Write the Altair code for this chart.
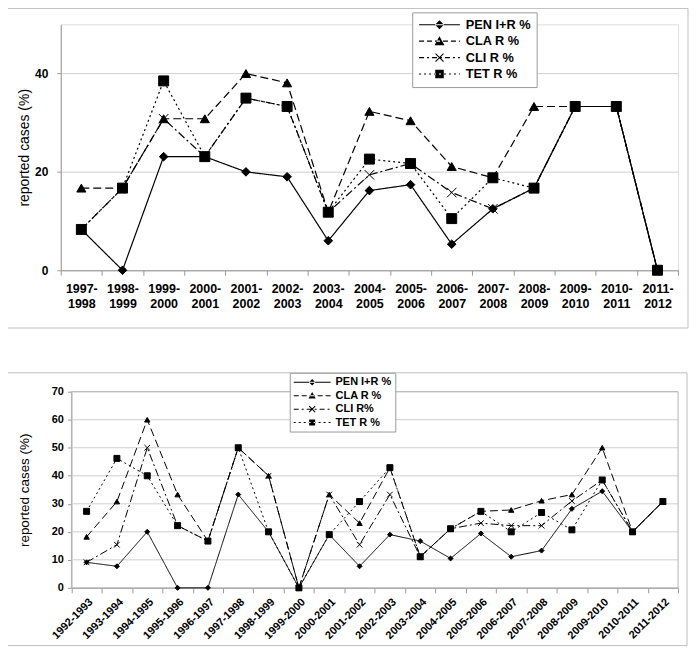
import math
import altair as alt
import pandas as pd

# ---------------- data ----------------
TOP_PERIODS = ["1997-1998", "1998-1999", "1999-2000", "2000-2001", "2001-2002",
               "2002-2003", "2003-2004", "2004-2005", "2005-2006", "2006-2007",
               "2007-2008", "2008-2009", "2009-2010", "2010-2011", "2011-2012"]
TOP_SERIES = ["PEN I+R %", "CLA R %", "CLI R %", "TET R %"]
TOP_PEN = [8.3, 0, 23.1, 23.1, 20.0, 19.0, 6.0, 16.2, 17.4, 5.3, 12.5, 16.7, 33.3, 33.3, 0]
TOP_CLA = [16.7, 16.7, 30.8, 30.8, 40.0, 38.1, 11.8, 32.3, 30.4, 21.1, 18.8, 33.3, 33.3, 33.3, 0]
TOP_CLI = [8.3, 16.7, 30.8, 23.1, 35.0, 33.3, 11.8, 19.4, 21.7, 15.8, 12.5, 16.7, 33.3, 33.3, 0]
TOP_TET = [8.3, 16.7, 38.5, 23.1, 35.0, 33.3, 11.8, 22.6, 21.7, 10.5, 18.8, 16.7, 33.3, 33.3, 0]
TOP_TICKS = [0, 20, 40]

BOT_PERIODS = ["1992-1993", "1993-1994", "1994-1995", "1995-1996", "1996-1997",
               "1997-1998", "1998-1999", "1999-2000", "2000-2001", "2001-2002",
               "2002-2003", "2003-2004", "2004-2005", "2005-2006", "2006-2007",
               "2007-2008", "2008-2009", "2009-2010", "2010-2011", "2011-2012"]
BOT_SERIES = ["PEN I+R %", "CLA R %", "CLI R%", "TET R %"]
BOT_PEN = [9.1, 7.7, 20.0, 0, 0, 33.3, 20.0, 0, 19.0, 7.7, 19.0, 16.7, 10.5, 19.4, 11.1, 13.3, 28.2, 34.5, 20.0, 30.8]
BOT_CLA = [18.2, 30.8, 60.0, 33.3, 16.7, 50.0, 40.0, 0, 33.3, 23.1, 42.9, 11.1, 21.1, 27.3, 27.8, 31.1, 33.3, 50.0, 20.0, 30.8]
BOT_CLI = [9.1, 15.4, 50.0, 22.2, 16.7, 50.0, 40.0, 0, 33.3, 15.4, 33.3, 11.1, 21.1, 23.1, 22.2, 22.2, 31.0, 38.5, 20.0, 30.8]
BOT_TET = [27.3, 46.2, 40.0, 22.2, 16.7, 50.0, 20.0, 0, 19.0, 30.8, 42.9, 11.1, 21.1, 27.3, 20.0, 26.9, 20.7, 38.5, 20.0, 30.8]
BOT_TICKS = [0, 10, 20, 30, 40, 50, 60, 70]

FONT = "Liberation Sans"
DASHES = [None, [5, 3], [5, 3, 2, 3], [2, 3]]
LINE_DASH_RANGE = [[1, 0], [8, 4], [8, 3, 2, 3], [2, 3]]
MARKERS = ["diamond", "triangle", "x", "square"]
X_PATH = "M-1,-1L1,1M-1,1L1,-1"


def long_df(periods, series, columns):
    rows = []
    for s, vals in zip(series, columns):
        for p, v in zip(periods, vals):
            rows.append({"period": p, "series": s, "value": v})
    return pd.DataFrame(rows)


def bar(xa, ya, xb, yb, t, u):
    """Filled thin quadrilateral from (xa,ya) to (xb,yb), half thickness t (px)."""
    dx, dy = xb - xa, yb - ya
    n = math.hypot(dx, dy) or 1.0
    nx, ny = -dy / n * t, dx / n * t
    pts = [(xa + nx, ya + ny), (xb + nx, yb + ny), (xb - nx, yb - ny), (xa - nx, ya - ny)]
    return "M" + "L".join(f"{px / u:.3f},{py / u:.3f}" for px, py in pts) + "Z"


def legend_symbol(dash, marker, W, r, size, lw):
    """Filled SVG path: a (dashed) line of W px with a marker in its middle."""
    u = math.sqrt(size) / 2.0
    c = (math.sqrt(size) + 1) / 2.0
    x0, mid = -c, W / 2.0 - c
    t = lw / 2.0
    parts = []
    if dash is None:
        parts.append(bar(x0, 0, x0 + W, 0, t, u))
    else:
        x, i = 0.0, 0
        while x < W - 1e-6:
            x2 = min(x + dash[i % len(dash)], W)
            if i % 2 == 0:
                parts.append(bar(x0 + x, 0, x0 + x2, 0, t, u))
            x, i = x2, i + 1
    m, k = mid, r
    if marker == "diamond":
        pts = [(m - k, 0), (m, -k), (m + k, 0), (m, k)]
    elif marker == "triangle":
        pts = [(m, -k), (m + k, 0.8 * k), (m - k, 0.8 * k)]
    elif marker == "square":
        pts = [(m - k, -k), (m + k, -k), (m + k, k), (m - k, k)]
    else:
        pts = None
    if pts is None:
        parts.append(bar(m - k, -k, m + k, k, 0.5, u))
        parts.append(bar(m - k, k, m + k, -k, 0.5, u))
    else:
        parts.append("M" + "L".join(f"{px / u:.3f},{py / u:.3f}" for px, py in pts) + "Z")
    return "".join(parts)


def panel(periods, series, columns, width, height, ydomain, yvalues, opts):
    df = long_df(periods, series, columns)
    shift = opts["xshift"]
    xscale = dict(type="band", domain=periods, paddingInner=0, paddingOuter=0)
    yaxis = dict(title="reported cases (%)", values=yvalues,
                 grid=(shift == 0), gridColor="#cfcfcf", domainColor="#999999",
                 tickColor="#999999", tickSize=4,
                 labelFont=FONT, labelFontSize=opts["yfs"], labelFontWeight="bold",
                 labelColor="black", labelPadding=opts["ylpad"],
                 titleFont=FONT, titleFontSize=opts["tfs"], titleFontWeight="normal",
                 titleColor="black", titlePadding=opts["tpad"])
    if shift:
        xscale["range"] = [shift, width]
        yaxis["offset"] = -shift
    xenc = alt.X("period:N", sort=periods, bandPosition=0.5,
                 scale=alt.Scale(**xscale),
                 axis=alt.Axis(title=None, tickBand="extent", grid=False,
                               domainColor="#999999", tickColor="#999999", tickSize=5,
                               labelFont=FONT, labelFontSize=opts["xfs"], labelFontWeight="bold",
                               labelColor="black", labelAngle=opts["xangle"],
                               labelPadding=opts["xpad"], labelLineHeight=15,
                               labelExpr=opts["xexpr"], labelOverlap=False))
    yenc = alt.Y("value:Q", scale=alt.Scale(domain=ydomain, nice=False, zero=True),
                 axis=alt.Axis(**yaxis))
    dash = alt.StrokeDash("series:N", scale=alt.Scale(domain=series, range=LINE_DASH_RANGE), legend=None)
    shape_vis = alt.Shape("series:N", scale=alt.Scale(domain=series,
                          range=["diamond", "triangle-up", X_PATH, "square"]), legend=None)
    size_vis = alt.Size("series:N", scale=alt.Scale(domain=series, range=opts["sizes"]), legend=None)

    frame = alt.Chart(pd.DataFrame({"f": [0]})).mark_rect(
        fillOpacity=0, stroke="#bdbdbd", strokeWidth=1).encode(
        x=alt.value(opts["box"][0]), x2=alt.value(width + opts["box"][1]),
        y=alt.value(opts["box"][2]), y2=alt.value(height + opts["box"][3]))
    layers = [frame]

    if shift:
        grid = alt.Chart(pd.DataFrame({"value": yvalues[1:]})).mark_rule(
            color="#cfcfcf", strokeWidth=1).encode(
            y=yenc, x=alt.value(shift), x2=alt.value(width))
        border = alt.Chart(pd.DataFrame({"f": [0]})).mark_rect(
            fillOpacity=0, stroke="#b3b3b3", strokeWidth=1).encode(
            x=alt.value(shift), x2=alt.value(width), y=alt.value(0), y2=alt.value(height))
        layers += [grid, border]

    lines = alt.Chart(df).mark_line(color="black", strokeWidth=opts["lw"]).encode(
        x=xenc, y=yenc, strokeDash=dash, detail="series:N")
    points = alt.Chart(df).mark_point(filled=True, fill="black", stroke="black",
                                      strokeWidth=1, opacity=1).encode(
        x=xenc, y=yenc, shape=shape_vis, size=size_vis)

    W = opts["lgW"]
    SZ = 100
    paths = [legend_symbol(d, m, W, r, SZ, opts["lw"]) for d, m, r in zip(DASHES, MARKERS, opts["lgR"])]
    label_offset = W + 5 - (math.sqrt(SZ) + 1)
    legend_layer = alt.Chart(df).transform_filter("false").mark_point(
        filled=True, fill="black", opacity=1).encode(
        shape=alt.Shape("series:N", scale=alt.Scale(domain=series, range=paths),
                        legend=alt.Legend(title=None, orient="none",
                                          legendX=opts["lgX"], legendY=opts["lgY"],
                                          direction="vertical", fillColor="white",
                                          strokeColor="#9a9a9a", padding=opts["lgPad"],
                                          symbolSize=SZ, symbolStrokeWidth=0,
                                          symbolFillColor="black",
                                          symbolOpacity=1, labelFont=FONT,
                                          labelFontSize=opts["lgFs"], labelFontWeight="bold",
                                          labelColor="black", labelOffset=label_offset,
                                          rowPadding=opts["lgRowPad"], labelLimit=300)))
    layers += [lines, points, legend_layer]
    props = dict(width=width, height=height)
    if shift:
        props["view"] = alt.ViewBackground(stroke="transparent")
    return alt.layer(*layers).resolve_scale(shape="independent").properties(**props)


top = panel(TOP_PERIODS, TOP_SERIES, [TOP_PEN, TOP_CLA, TOP_CLI, TOP_TET], 620, 247,
            [0, 50], TOP_TICKS,
            dict(xshift=0, xfs=12.5, xangle=0, xpad=7,
                 xexpr="[substring(datum.label, 0, 5), substring(datum.label, 5)]",
                 yfs=12, ylpad=9, tfs=14, tpad=3, sizes=[75, 100, 80, 86], lw=1.2,
                 box=[-54, 10, -16, 58], lgW=41, lgR=[4.5, 5.0, 4.0, 4.3],
                 lgX=353, lgY=-12, lgPad=6, lgFs=12.8, lgRowPad=2.5))

bottom = panel(BOT_PERIODS, BOT_SERIES, [BOT_PEN, BOT_CLA, BOT_CLI, BOT_TET], 620, 197,
               [0, 70], BOT_TICKS,
               dict(xshift=10.7, xfs=11, xangle=-45, xpad=3, xexpr="datum.label",
                    yfs=11, ylpad=4, tfs=13.5, tpad=20, sizes=[25, 36, 36, 28], lw=1.0,
                    box=[-54, 9, -19, 58], lgW=37, lgR=[3.2, 3.6, 3.0, 3.0],
                    lgX=230, lgY=-19, lgPad=4, lgFs=11, lgRowPad=1.5))

chart = alt.vconcat(top, bottom, spacing=43).resolve_scale(
    strokeDash="independent", size="independent", shape="independent"
).properties(
    padding={"left": -2, "top": -2, "right": 0, "bottom": 0}
).configure_view(stroke="#b3b3b3").configure(font=FONT)

chart.save("out.html", embed_options={"renderer": "svg", "actions": False})
